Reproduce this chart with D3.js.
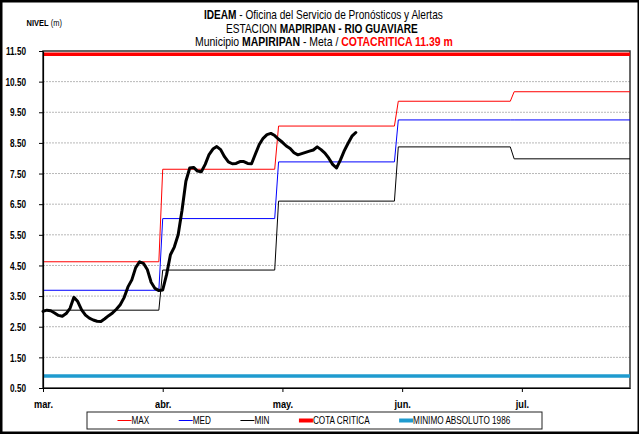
<!DOCTYPE html>
<html>
<head>
<meta charset="utf-8">
<script src="https://cdn.jsdelivr.net/npm/d3@7"></script>
<style>
  html, body { margin: 0; padding: 0; background: #fff; }
  svg { display: block; font-family: 'Liberation Sans', Arial, sans-serif; }
</style>
</head>
<body>
<svg id="chart" width="639" height="435"></svg>
<script>
// Time axis: day index counted from 1 March, ticks every 31 days
const monthLabels   = ["mar.", "abr.", "may.", "jun.", "jul."];
const monthTickDays = [0, 31, 62, 93, 124];
// Day index where each calendar month begins (Mar..Jul), last day = 31 Jul
const monthStarts = [0, 31, 61, 92, 122];
const lastDay = 152;

// Historical monthly statistics (m)
const maxLevels = [4.62, 7.64, 9.05, 9.86, 10.17];
const medLevels = [3.69, 6.03, 7.88, 9.25, 9.25];
const minLevels = [3.04, 4.35, 6.60, 8.37, 7.98];

// Reference levels (m)
const cotaCritica    = 11.39;
const minimoAbsoluto = 0.89;

// Daily observed level from 1 March (m)
const observed = [
  3.00, 3.04, 3.02, 2.95, 2.87, 2.84, 2.93, 3.10, 3.46, 3.32,
  3.05, 2.88, 2.78, 2.72, 2.68, 2.67, 2.76, 2.86, 2.95, 3.07,
  3.22, 3.45, 3.80, 4.03, 4.43, 4.62, 4.57, 4.37, 3.95, 3.75,
  3.68, 3.70, 4.20, 4.85, 5.10, 5.50, 6.30, 7.25, 7.68, 7.70,
  7.58, 7.56, 7.80, 8.12, 8.30, 8.38, 8.28, 8.05, 7.88, 7.82,
  7.83, 7.89, 7.89, 7.83, 7.82, 8.14, 8.45, 8.65, 8.77, 8.81,
  8.74, 8.62, 8.52, 8.40, 8.32, 8.18, 8.11, 8.15, 8.19, 8.23,
  8.27, 8.37, 8.28, 8.17, 8.00, 7.80, 7.68, 7.94, 8.24, 8.49,
  8.72, 8.84
];

// Level axis ticks
const yTicks = [0.5, 1.5, 2.5, 3.5, 4.5, 5.5, 6.5, 7.5, 8.5, 9.5, 10.5, 11.5];

// Legend entries
const legendLabels = ["MAX", "MED", "MIN", "COTA CRITICA", "MINIMO ABSOLUTO 1986"];
const legendColors = ["#ff0000", "#0000ff", "#000000", "#ff0000", "#1f9bcf"];
const legendWidths = [1, 1, 1, 4, 4];

const svg = d3.select("#chart");
const W = 639, H = 435;
const margin = { left: 43, right: 9, top: 51, bottom: 47 };

const x = d3.scaleLinear().domain([0, lastDay]).range([margin.left, W - margin.right]);
const y = d3.scaleLinear().domain([0.5, 11.5]).range([H - margin.bottom, margin.top]);

// Outer frame
svg.append("rect")
  .attr("x", 1.25).attr("y", 1.25)
  .attr("width", W - 2.5 + 1).attr("height", H - 2.5 - 1)
  .attr("fill", "none").attr("stroke", "#000").attr("stroke-width", 2.5);

// Dotted horizontal gridlines
svg.append("g")
  .selectAll("line")
  .data(yTicks.filter(v => v > 0.5 && v < 11.5))
  .join("line")
  .attr("x1", x(0)).attr("x2", x(lastDay))
  .attr("y1", d => y(d)).attr("y2", d => y(d))
  .attr("stroke", "#b8b8b8").attr("stroke-width", 1)
  .attr("stroke-dasharray", "2,1");

// Plot area border
svg.append("rect")
  .attr("x", x(0)).attr("y", y(11.5))
  .attr("width", x(lastDay) - x(0)).attr("height", y(0.5) - y(11.5))
  .attr("fill", "none").attr("stroke", "#333").attr("stroke-width", 1.5);

// Constant reference levels
function hLine(value, color, width) {
  svg.append("line")
    .attr("x1", x(0)).attr("x2", x(lastDay))
    .attr("y1", y(value)).attr("y2", y(value))
    .attr("stroke", color).attr("stroke-width", width);
}
hLine(cotaCritica, "#ff0000", 3.5);
hLine(minimoAbsoluto, "#1f9bcf", 3.5);

// Monthly statistics drawn as daily step series (flat within each month)
function monthlyPoints(levels) {
  const pts = [];
  levels.forEach((v, i) => {
    const start = monthStarts[i];
    const end = i + 1 < monthStarts.length ? monthStarts[i + 1] - 1 : lastDay;
    pts.push([start, v], [end, v]);
  });
  return pts;
}
const line = d3.line().x(d => x(d[0])).y(d => y(d[1]));

[[maxLevels, "#ff0000"], [medLevels, "#0000ff"], [minLevels, "#000000"]].forEach(([lv, c]) => {
  svg.append("path")
    .datum(monthlyPoints(lv))
    .attr("d", line)
    .attr("fill", "none").attr("stroke", c).attr("stroke-width", 1);
});

// Observed daily level
svg.append("path")
  .datum(observed.map((v, i) => [i, v]))
  .attr("d", line)
  .attr("fill", "none").attr("stroke", "#000").attr("stroke-width", 3)
  .attr("stroke-linejoin", "round").attr("stroke-linecap", "round");

// Y axis
const yAxis = svg.append("g")
  .attr("transform", `translate(${x(0)},0)`)
  .call(d3.axisLeft(y).tickValues(yTicks).tickFormat(d3.format(".2f"))
    .tickSizeInner(4).tickSizeOuter(0));
yAxis.select(".domain").attr("stroke", "#000").attr("stroke-width", 1.2);
yAxis.selectAll(".tick line").attr("stroke", "#000");
yAxis.selectAll(".tick text")
  .attr("x", 0).attr("dy", "0.35em")
  .attr("transform", "translate(-17,0) scale(0.78,1)")
  .attr("font-size", 10.5).attr("font-weight", "bold").attr("fill", "#000");

// X axis
const xAxis = svg.append("g")
  .attr("transform", `translate(0,${y(0.5)})`)
  .call(d3.axisBottom(x).tickValues(monthTickDays)
    .tickFormat((d, i) => monthLabels[i]).tickSizeInner(4).tickSizeOuter(0));
xAxis.select(".domain").attr("stroke", "#000").attr("stroke-width", 1.2);
xAxis.selectAll(".tick line").attr("stroke", "#000");
xAxis.selectAll(".tick text")
  .attr("y", 20).attr("dy", 0)
  .attr("transform", "scale(0.84,1)")
  .attr("font-size", 11).attr("font-weight", "bold").attr("fill", "#000");

// Fit a text line into a given width, centred (or left-aligned) at a baseline
function fitText(t, left, baseline, width) {
  const w = t.node().getComputedTextLength();
  t.attr("transform", `translate(${left},${baseline}) scale(${width / w},1)`);
}

// Title block
const t1 = svg.append("text").attr("font-size", 12);
t1.append("tspan").attr("font-weight", "bold").text("IDEAM");
t1.append("tspan").text(" - Oficina del Servicio de Pronósticos y Alertas");
fitText(t1, 204, 19, 239);

const t2 = svg.append("text").attr("font-size", 12);
t2.append("tspan").text("ESTACION ");
t2.append("tspan").attr("font-weight", "bold").text("MAPIRIPAN -  RIO GUAVIARE");
fitText(t2, 226, 32.5, 192);

const t3 = svg.append("text").attr("font-size", 12);
t3.append("tspan").text("Municipio ");
t3.append("tspan").attr("font-weight", "bold").text("MAPIRIPAN");
t3.append("tspan").text(" -  Meta  /  ");
t3.append("tspan").attr("font-weight", "bold").attr("fill", "#ff0000").text("COTACRITICA 11.39 m");
fitText(t3, 195, 46, 258);

const yl = svg.append("text").attr("font-size", 9.5);
yl.append("tspan").attr("font-weight", "bold").text("NIVEL");
yl.append("tspan").text(" (m)");
fitText(yl, 26.5, 26, 35.5);

// Legend
const legBox = { x: 87, y: 412, w: 455, h: 17 };
svg.append("rect")
  .attr("x", legBox.x).attr("y", legBox.y)
  .attr("width", legBox.w).attr("height", legBox.h)
  .attr("fill", "#fff").attr("stroke", "#222").attr("stroke-width", 1);

let lx = 117.5;
const ly = legBox.y + legBox.h / 2;
legendLabels.forEach((lab, i) => {
  svg.append("line")
    .attr("x1", lx).attr("x2", lx + 14)
    .attr("y1", ly).attr("y2", ly)
    .attr("stroke", legendColors[i]).attr("stroke-width", legendWidths[i]);
  const t = svg.append("text")
    .attr("font-size", 10)
    .attr("fill", "#000")
    .text(lab);
  const sx = 0.82;
  t.attr("transform", `translate(${lx + 14},${ly + 3.6}) scale(${sx},1)`);
  const tw = t.node().getComputedTextLength() * sx;
  lx += 14 + tw + 29.5;
});
</script>
</body>
</html>
